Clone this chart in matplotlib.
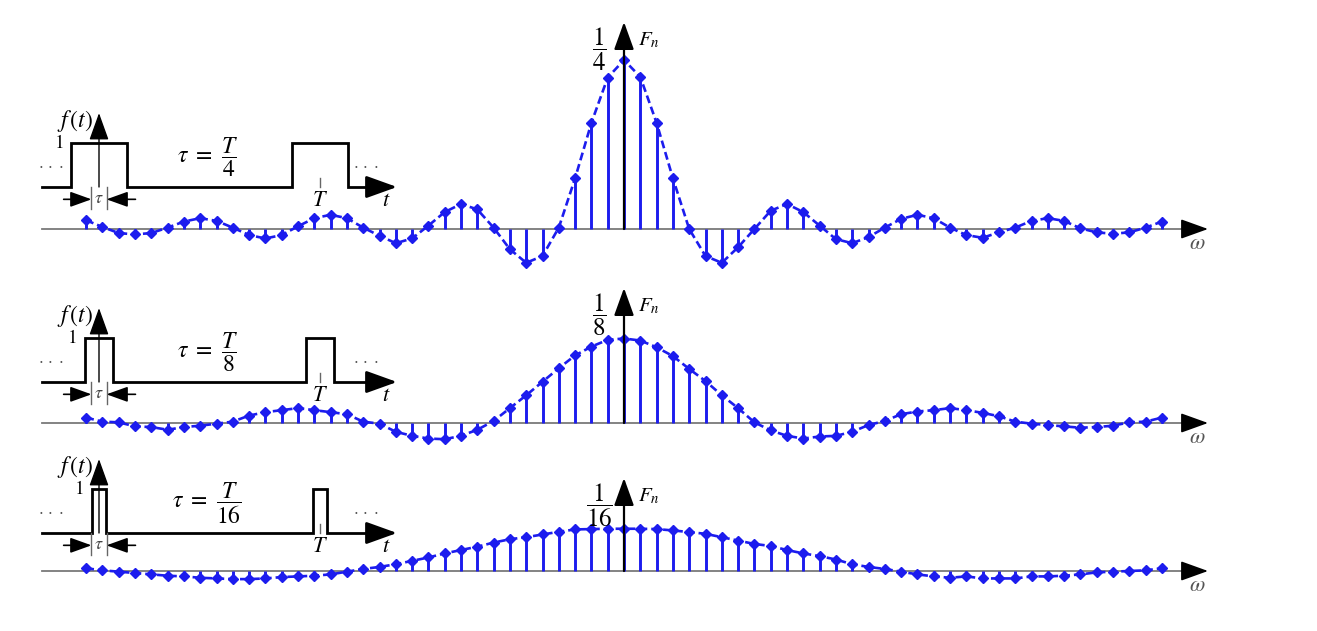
"""Periodic rectangular pulse trains (tau = T/4, T/8, T/16) and their line spectra Fn."""
import numpy as np
import matplotlib
matplotlib.use("Agg")
import matplotlib.pyplot as plt

plt.rcParams.update({"mathtext.fontset": "stix", "font.family": "STIXGeneral"})

W, H = 1317, 631
BLUE = "#1c1cee"

# harmonic index n and Fn values (n = -33 .. 33)
n_vals = list(range(-33, 34))

fn_tau4 = [0.013, 0.003, -0.006, -0.008, -0.006, 0.002, 0.011, 0.016, 0.012, 0.002,
           -0.009, -0.014, -0.009, 0.004, 0.016, 0.021, 0.016, 0.002, -0.010, -0.021,
           -0.014, 0.005, 0.025, 0.037, 0.029, 0.002, -0.030, -0.050, -0.040, 0.002,
           0.075, 0.157, 0.224,
           0.250,
           0.225, 0.157, 0.075, 0.000, -0.040, -0.050, -0.027, 0.000, 0.027, 0.037,
           0.025, 0.005, -0.015, -0.021, -0.012, 0.002, 0.015, 0.021, 0.016, 0.002,
           -0.009, -0.013, -0.005, 0.002, 0.012, 0.016, 0.012, 0.001, -0.005, -0.007,
           -0.005, 0.002, 0.011]

fn_tau8 = [0.008, 0.002, 0.001, -0.005, -0.006, -0.010, -0.006, -0.004, -0.001, 0.002,
           0.011, 0.016, 0.019, 0.022, 0.019, 0.016, 0.013, 0.002, -0.001, -0.013,
           -0.019, -0.023, -0.024, -0.019, -0.010, 0.003, 0.022, 0.041, 0.061, 0.081,
           0.100, 0.113, 0.123,
           0.125,
           0.122, 0.112, 0.099, 0.080, 0.062, 0.041, 0.022, 0.001, -0.011, -0.019,
           -0.023, -0.020, -0.019, -0.013, -0.003, 0.003, 0.013, 0.017, 0.019, 0.022,
           0.019, 0.015, 0.010, 0.002, -0.001, -0.003, -0.005, -0.007, -0.006, -0.004,
           0.001, 0.002, 0.008]

fn_tau16 = [0.004, 0.001, -0.001, -0.003, -0.005, -0.007, -0.008, -0.010, -0.011, -0.012,
            -0.012, -0.011, -0.009, -0.008, -0.007, -0.005, -0.001, 0.003, 0.006, 0.010,
            0.015, 0.020, 0.026, 0.031, 0.036, 0.042, 0.047, 0.050, 0.054, 0.058,
            0.0615, 0.0620, 0.0625,
            0.0625,
            0.0625, 0.0620, 0.060, 0.0576, 0.055, 0.050, 0.045, 0.040, 0.037, 0.031,
            0.026, 0.022, 0.017, 0.010, 0.006, 0.003, -0.001, -0.005, -0.008, -0.010,
            -0.008, -0.011, -0.011, -0.011, -0.008, -0.008, -0.007, -0.005, -0.002, -0.001,
            0.000, 0.001, 0.004]

tau_div = [4, 8, 16]          # tau = T / div
peak_labels = [r"$\dfrac{1}{4}$", r"$\dfrac{1}{8}$", r"$\dfrac{1}{16}$"]
tau_labels = [r"$\tau\ =\ \dfrac{T}{4}$", r"$\tau\ =\ \dfrac{T}{8}$", r"$\tau\ =\ \dfrac{T}{16}$"]
spectra = [fn_tau4, fn_tau8, fn_tau16]

# layout (pixels): spectrum baseline, time-axis baseline, Fn arrow tip per row
spec_base = [229, 423, 571]
time_base = [187, 382, 533]
fn_tip = [22, 288, 478]

X0, DX, SCALE = 624, 16.3, 676      # spectrum: n=0 position, px per harmonic, px per unit Fn
T0, DT, AMP = 99, 221, 44           # time plot: t=0 position, px per period, px per unit amplitude

ARROW = dict(arrowstyle="-|>,head_length=1.0,head_width=0.36", color="black",
             lw=1.2, mutation_scale=17, shrinkA=0, shrinkB=0)


def overlay_axes(fig, xlim, ylim):
    ax = fig.add_axes([0, 0, 1, 1])
    ax.set_axis_off()
    ax.patch.set_alpha(0)
    ax.set_xlim(*xlim)
    ax.set_ylim(*ylim)
    return ax


fig = plt.figure(figsize=(W / 100, H / 100), dpi=100)
fig.patch.set_facecolor("white")

for i in range(3):
    # ---------------- spectrum ----------------
    yb = spec_base[i]
    ax = overlay_axes(fig, (-X0 / DX, (W - X0) / DX), (-(H - yb) / SCALE, yb / SCALE))
    px = 1.0 / SCALE
    ax.plot([(42 - X0) / DX, (1190 - X0) / DX], [0, 0], color="#7a7a7a", lw=1.3, zorder=1)
    ax.annotate("", xy=((1208 - X0) / DX, 0), xytext=((1186 - X0) / DX, 0), arrowprops=ARROW)
    n = np.array(n_vals)
    f = np.array(spectra[i])
    ax.vlines(n, 0, f, colors=BLUE, lw=2.1, zorder=2)
    ax.plot(n, f, color=BLUE, lw=1.9, ls=(0, (3, 1.5)), marker="D", ms=4.8, zorder=3)
    ax.annotate("", xy=(0, (yb - fn_tip[i]) * px), xytext=(0, 0),
                arrowprops=dict(ARROW, lw=1.6), zorder=4)
    top = (yb - fn_tip[i]) * px
    ax.text(-1.5, top - 27 * px, peak_labels[i], fontsize=18, ha="center", va="center")
    ax.text(0.85, top - 18 * px, r"$F_n$", fontsize=15, ha="left", va="center")
    ax.text((1197 - X0) / DX, -15 * px, r"$\omega$", fontsize=16, ha="center", va="center",
            color="#555555")

    # ---------------- time signal ----------------
    tb = time_base[i]
    at = overlay_axes(fig, (-T0 / DT, (W - T0) / DT), (-(H - tb) / AMP, tb / AMP))
    tau = 1.0 / tau_div[i]
    h = tau / 2
    t_left, t_right = (42 - T0) / DT, (372 - T0) / DT
    sig_t = [t_left, -h, -h, h, h, 1 - h, 1 - h, 1 + h, 1 + h, t_right]
    sig_a = [0, 0, 1, 1, 0, 0, 1, 1, 0, 0]
    at.plot(sig_t, sig_a, color="black", lw=2.0, solid_joinstyle="miter")
    at.annotate("", xy=((397 - T0) / DT, 0), xytext=(t_right - 0.01, 0),
                arrowprops=dict(ARROW, lw=2.0, mutation_scale=19))
    at.annotate("", xy=(0, 1.68), xytext=(0, 0), arrowprops=dict(ARROW, lw=1.0))
    at.plot([1, 1], [0, 0.2], color="#666666", lw=1.0)

    # tau width marker
    w = 0.034
    for s in (-w, w):
        at.plot([s, s], [0, -0.5], color="#666666", lw=1.0)
    at.annotate("", xy=(-w, -0.28), xytext=(-0.16, -0.28),
                arrowprops=dict(ARROW, lw=1.2, mutation_scale=13))
    at.annotate("", xy=(w, -0.28), xytext=(0.165, -0.28),
                arrowprops=dict(ARROW, lw=1.2, mutation_scale=13))
    at.text(0, -0.28, r"$\tau$", fontsize=13, ha="center", va="center", color="#444444")

    at.text(-0.025, 1.5, r"$f\,(t)$", fontsize=17, ha="right", va="center")
    at.text(-h - 0.055, 0.98, "1", fontsize=14, ha="center", va="center")
    at.text(0.49, 0.68, tau_labels[i], fontsize=17, ha="center", va="center")
    at.text(1.0, -0.33, r"$T$", fontsize=16, ha="center", va="center")
    at.text((386 - T0) / DT, -0.33, r"$t$", fontsize=16, ha="center", va="center")
    at.text(-0.215, 0.5, r"$\cdot\,\cdot\,\cdot$", fontsize=12, ha="center", va="center",
            color="#555555")
    at.text(1.21, 0.5, r"$\cdot\,\cdot\,\cdot$", fontsize=12, ha="center", va="center",
            color="#555555")

fig.savefig("out.png", dpi=100, facecolor="white")
